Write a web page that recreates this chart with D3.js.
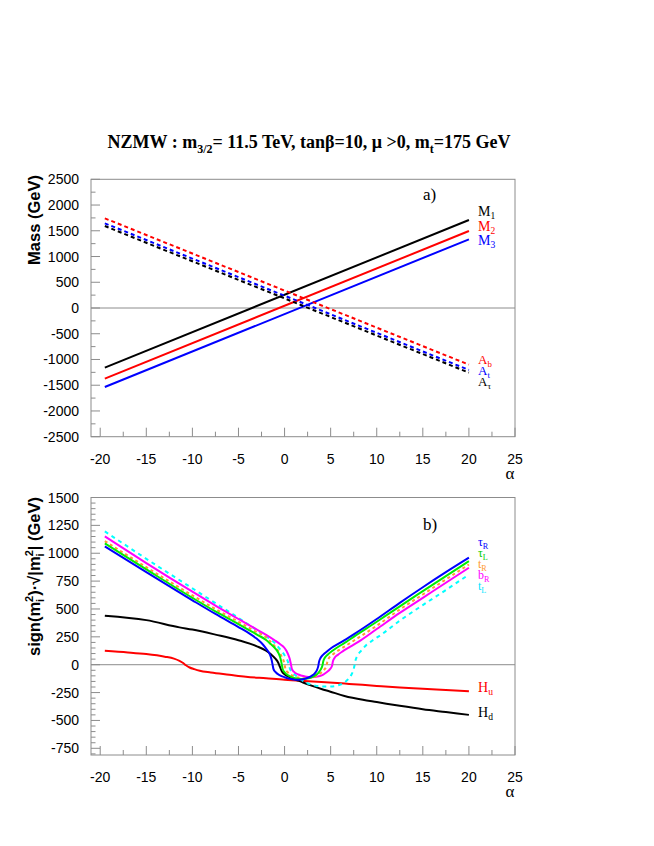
<!DOCTYPE html>
<html>
<head>
<meta charset="utf-8">
<script src="https://cdn.jsdelivr.net/npm/d3@7/dist/d3.min.js"></script>
<style>
body { margin: 0; background: #fff; }
</style>
</head>
<body>
<div id="chart"></div>
<script>
// NZMW plot: a) soft masses vs alpha, b) sign(m^2)*sqrt|m^2| vs alpha

var width = 654,
	height = 846;

// ---- data ----
// panel a): straight lines, value at alpha = -19.5 and 20
var alphaTop = [-19.5, 20];
var M1 = [-1159, 1709],
	M2 = [-1373, 1495],
	M3 = [-1534, 1334];
var Ab = [1742, -1101],
	At = [1645, -1204],
	Atau = [1592, -1256];

// panel b): [alpha, GeV]
var tauR = [[-19.5,1061],[-15,830],[-10,578],[-7.5,455],[-5,338],[-4,290],[-3,232],[-2.5,195],[-2,145],[-1.7,110],[-1.5,72],[-1.4,42],[-1.3,0],[-1.2,-40],[-1,-65],[-0.5,-95],[0,-112],[0.6,-127],[1.2,-135],[1.8,-133],[2.4,-122],[2.9,-102],[3.3,-75],[3.5,-50],[3.65,-15],[3.75,30],[3.9,60],[4.2,90],[4.5,112],[5,145],[6,195],[6.7,230],[7.5,272],[10,410],[12.5,555],[15,695],[17.5,830],[20,960]];
var tauL = [[-19.5,1088],[-15,855],[-10,600],[-7.5,478],[-5,365],[-4,318],[-3,270],[-2,222],[-1.5,185],[-1,145],[-0.7,110],[-0.5,72],[-0.4,42],[-0.3,0],[-0.2,-40],[0,-68],[0.5,-100],[1,-118],[1.9,-128],[2.7,-120],[3.3,-98],[3.7,-70],[3.95,-40],[4.1,-10],[4.2,30],[4.35,60],[4.7,92],[5.2,125],[6,170],[6.7,205],[7.5,250],[10,385],[12.5,524],[15,660],[17.5,795],[20,929]];
var tR = [[-19.5,1109],[-15,875],[-10,622],[-7.5,500],[-5,385],[-4,338],[-3,292],[-2,245],[-1.5,205],[-1,160],[-0.7,125],[-0.4,88],[-0.2,55],[-0.1,35],[0,0],[0.1,-40],[0.3,-65],[0.8,-95],[1.5,-115],[2.3,-122],[3,-115],[3.6,-95],[4,-70],[4.35,-40],[4.55,-10],[4.65,30],[4.8,58],[5.2,90],[5.7,120],[6.5,162],[7.5,215],[10,350],[12.5,495],[15,630],[17.5,765],[20,899]];
var bR = [[-19.5,1151],[-15,912],[-10,655],[-7.5,530],[-5,410],[-4,362],[-3,315],[-2,268],[-1,215],[-0.5,185],[0,150],[0.2,125],[0.4,90],[0.55,55],[0.7,0],[0.8,-40],[1,-62],[1.5,-88],[2.2,-105],[2.9,-112],[3.6,-106],[4.2,-88],[4.6,-66],[4.95,-38],[5.15,-10],[5.25,30],[5.4,58],[5.8,90],[6.3,120],[7,155],[8,205],[10,320],[12.5,465],[15,600],[17.5,735],[20,870]];
var tL = [[-19.5,1196],[-15,950],[-10,685],[-7.5,552],[-5,420],[-4,365],[-3,310],[-2,255],[-1,190],[-0.5,140],[0,85],[0.2,55],[0.35,30],[0.45,0],[0.6,-40],[0.8,-65],[1.1,-90],[1.5,-115],[2.3,-160],[3.2,-185],[4.2,-195],[5,-195],[5.8,-185],[6.4,-165],[6.9,-130],[7.25,-90],[7.5,-40],[7.6,0],[7.7,40],[7.9,80],[8.3,125],[8.85,175],[9.5,215],[10.5,270],[12.5,395],[15,535],[17.5,670],[20,809]];
var Hd = [[-19.5,440],[-15,400],[-11.4,335],[-10,315],[-7.5,270],[-5,220],[-3,165],[-2,125],[-1.5,95],[-1,55],[-0.7,20],[-0.5,-20],[-0.3,-60],[0,-85],[0.5,-110],[1.25,-135],[2,-160],[3,-190],[4,-218],[4.9,-240],[6.5,-280],[8.5,-315],[10,-335],[12.5,-369],[15,-400],[17.5,-425],[20,-450]];
var Hu = [[-19.5,125],[-17,110],[-15,95],[-13,72],[-12,55],[-11.4,35],[-11,15],[-10.7,-5],[-10.3,-25],[-9.8,-40],[-9.2,-55],[-8,-70],[-6,-90],[-4.2,-108],[-2,-122],[0,-135],[1.25,-141],[4,-155],[7,-172],[10,-190],[12.5,-204],[15,-215],[17.5,-227],[20,-238]];

// tick values
var xMajor = d3.range(-20, 26, 5),
	xMinor = d3.range(-20, 25.1, 2.5);
var yTopMajor = d3.range(-2500, 2501, 500),
	yTopMinor = d3.range(-2500, 2501, 250);
var yBotMajor = d3.range(-750, 1501, 250),
	yBotMinor = d3.range(-800, 1501, 50);

// ---- setup ----
var svg = d3.select('#chart').append('svg')
	.attr('width', width)
	.attr('height', height)
	.style('font-family', '"Liberation Sans", Arial, sans-serif');

var frameL = 91, frameR = 515;
var grey = '#8c8c8c';
var serif = '"Liberation Serif", "Times New Roman", serif';

var x = d3.scaleLinear().domain([-21, 25]).range([frameL, frameR]);
var yTop = d3.scaleLinear().domain([-2500, 2500]).range([436.7, 179.3]);
var yBot = d3.scaleLinear().domain([-810, 1500]).range([755, 497.5]);

// title
var title = svg.append('text')
	.attr('x', 309)
	.attr('y', 148)
	.attr('text-anchor', 'middle')
	.attr('font-family', serif)
	.attr('font-weight', 'bold')
	.attr('font-size', 18);
title.append('tspan').text('NZMW : m');
title.append('tspan').attr('font-size', 12).attr('dy', 5).text('3/2');
title.append('tspan').attr('dy', -5).text('= 11.5 TeV, tan\u03b2=10, \u03bc >0, m');
title.append('tspan').attr('font-size', 12).attr('dy', 5).text('t');
title.append('tspan').attr('dy', -5).text('=175 GeV');

function drawPanel(y, yMajor, yMinor, yLo, yHi) {
	var g = svg.append('g');
	var top = y(yHi), bottom = y(yLo);

	// zero line
	g.append('line')
		.attr('x1', frameL).attr('x2', frameR)
		.attr('y1', y(0)).attr('y2', y(0))
		.attr('stroke', grey).attr('stroke-width', 1);

	// x ticks (inside, from bottom)
	g.selectAll('.xminor').data(xMinor).enter().append('line')
		.attr('x1', d => x(d)).attr('x2', d => x(d))
		.attr('y1', bottom).attr('y2', d => bottom - (xMajor.indexOf(d) >= 0 ? 9 : 5))
		.attr('stroke', grey);

	// y ticks (inside, from left)
	g.selectAll('.yminor').data(yMinor).enter().append('line')
		.attr('x1', frameL).attr('x2', d => frameL + (yMajor.indexOf(d) >= 0 ? 9 : 4.5))
		.attr('y1', d => y(d)).attr('y2', d => y(d))
		.attr('stroke', grey);

	// frame
	g.append('rect')
		.attr('x', frameL).attr('y', top)
		.attr('width', frameR - frameL).attr('height', bottom - top)
		.attr('fill', 'none').attr('stroke', grey).attr('stroke-width', 1);

	// tick labels
	g.selectAll('.xlab').data(xMajor).enter().append('text')
		.attr('x', d => x(d)).attr('y', bottom + 27)
		.attr('text-anchor', 'middle')
		.attr('font-size', 14)
		.text(d => d);
	g.selectAll('.ylab').data(yMajor).enter().append('text')
		.attr('x', 79).attr('y', d => y(d) + 5)
		.attr('text-anchor', 'end')
		.attr('font-size', 14)
		.text(d => d);

	g.append('text')
		.attr('x', 510).attr('y', bottom + 42)
		.attr('text-anchor', 'middle')
		.attr('font-family', serif)
		.attr('font-size', 17)
		.text('\u03b1');
	return g;
}

var gTop = drawPanel(yTop, yTopMajor, yTopMinor, -2500, 2500);
var gBot = drawPanel(yBot, yBotMajor, yBotMinor, -810, 1500);

// axis titles
svg.append('text')
	.attr('transform', 'translate(40,175) rotate(-90)')
	.attr('text-anchor', 'end')
	.attr('font-weight', 'bold')
	.attr('font-size', 16.5)
	.text('Mass (GeV)');

var t2 = svg.append('text')
	.attr('transform', 'translate(40,497) rotate(-90)')
	.attr('text-anchor', 'end')
	.attr('font-weight', 'bold')
	.attr('font-size', 16.5);
t2.append('tspan').text('sign(m');
t2.append('tspan').attr('font-size', 11).attr('dy', 4).text('i');
t2.append('tspan').attr('font-size', 11).attr('dx', -3).attr('dy', -11).text('2');
t2.append('tspan').attr('dy', 7).text(')\u00b7\u221a|m');
t2.append('tspan').attr('font-size', 11).attr('dy', 4).text('i');
t2.append('tspan').attr('font-size', 11).attr('dx', -3).attr('dy', -11).text('2');
t2.append('tspan').attr('dy', 7).text('|  (GeV)');

// panel a) lines
var topSeries = [
	{vals: M1, color: '#000000', dash: null},
	{vals: M2, color: '#ff0000', dash: null},
	{vals: M3, color: '#0000ff', dash: null},
	{vals: Ab, color: '#ff0000', dash: '4,3'},
	{vals: At, color: '#0000ff', dash: '4,3'},
	{vals: Atau, color: '#000000', dash: '4,3'}
];
var lineTop = d3.line()
	.x(d => x(d[0]))
	.y(d => yTop(d[1]));

topSeries.forEach(function(s) {
	var pts = alphaTop.map((a, i) => [a, s.vals[i]]);
	svg.append('path')
		.attr('d', lineTop(pts))
		.attr('fill', 'none')
		.attr('stroke', s.color)
		.attr('stroke-width', 2)
		.attr('stroke-dasharray', s.dash);
});

// panel b) lines
var botSeries = [
	{vals: Hu, color: '#ff0000', dash: null},
	{vals: Hd, color: '#000000', dash: null},
	{vals: tL, color: '#00ffff', dash: '4,4'},
	{vals: bR, color: '#ff00ff', dash: null},
	{vals: tR, color: '#ff9933', dash: '3,3'},
	{vals: tauL, color: '#00ee00', dash: null},
	{vals: tauR, color: '#0000ff', dash: null}
];
var lineBot = d3.line()
	.x(d => x(d[0]))
	.y(d => yBot(d[1]))
	.curve(d3.curveMonotoneX);

botSeries.forEach(function(s) {
	svg.append('path')
		.attr('d', lineBot(s.vals))
		.attr('fill', 'none')
		.attr('stroke', s.color)
		.attr('stroke-width', 2)
		.attr('stroke-dasharray', s.dash);
});

// panel labels
svg.append('text').attr('x', 423).attr('y', 200)
	.attr('font-family', serif)
	.attr('font-size', 17).text('a)');
svg.append('text').attr('x', 423).attr('y', 530)
	.attr('font-family', serif)
	.attr('font-size', 17).text('b)');

// curve labels: name, subscript, colour, baseline, size
var labels = [
	['M', '1', '#000000', 216, 14],
	['M', '2', '#ff0000', 231, 14],
	['M', '3', '#0000ff', 245, 14],
	['A', 'b', '#ff0000', 364, 13],
	['A', 't', '#0000ff', 375, 13],
	['A', '\u03c4', '#000000', 386, 13],
	['\u03c4', 'R', '#0000ff', 546, 12],
	['\u03c4', 'L', '#00cc00', 557, 12],
	['t', 'R', '#ff9933', 568, 12],
	['b', 'R', '#ff00ff', 579, 12],
	['t', 'L', '#00e5ff', 590, 12],
	['H', 'u', '#ff0000', 692, 14],
	['H', 'd', '#000000', 717, 14]
];
labels.forEach(function(l) {
	var t = svg.append('text')
		.attr('x', 478).attr('y', l[3])
		.attr('fill', l[2])
		.attr('font-family', serif)
		.attr('font-size', l[4]);
	t.append('tspan').text(l[0]);
	t.append('tspan').attr('font-size', l[4] * 0.68).attr('dy', 3).text(l[1]);
});
</script>
</body>
</html>
